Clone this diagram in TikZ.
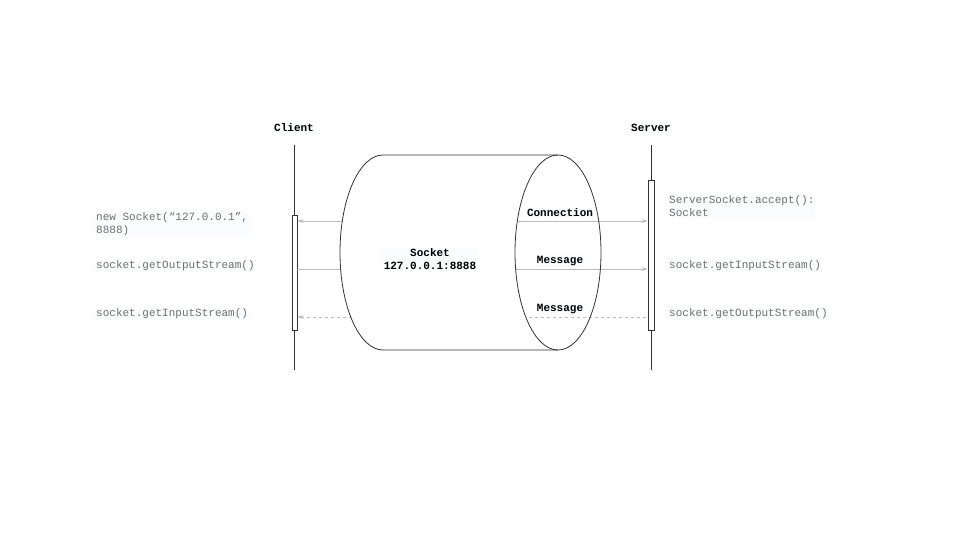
\documentclass[tikz,border=0pt]{standalone}
\usepackage{fontspec}
\setmonofont{Liberation Mono}
\usetikzlibrary{arrows.meta}
\definecolor{lifec}{HTML}{333333}
\definecolor{arrc}{HTML}{BBBBBB}
\definecolor{codec}{HTML}{707070}
\definecolor{lblbg}{HTML}{FAFBFD}
\tikzset{
  life/.style={draw=lifec, line width=0.8pt},
  actbox/.style={draw=lifec, fill=white, line width=0.8pt, minimum width=5pt, inner sep=0pt},
  hdr/.style={font=\ttfamily\bfseries\fontsize{11}{13}\selectfont, text=black, fill=lblbg, inner sep=1pt},
  code/.style={font=\ttfamily\fontsize{11}{13}\selectfont, text=codec, fill=lblbg, inner sep=1pt, align=left, anchor=west},
  msg/.style={font=\ttfamily\bfseries\fontsize{11}{13}\selectfont, text=black, fill=lblbg, inner sep=1pt},
  conn/.style={draw=arrc, line width=0.8pt, arrows={-Stealth[length=6pt,width=4pt]}},
  cyl/.style={draw=lifec, line width=0.8pt},
}
\begin{document}
\begin{tikzpicture}[x=1pt,y=-1pt]
\useasboundingbox[fill=white] (0,0) rectangle (960,540);
% headers and lifelines
\node[hdr] (client) at (294,128) {Client};
\node[hdr] (server) at (651,128) {Server};
\coordinate (ctop) at (294,145);
\coordinate (cbot) at (294,370);
\coordinate (stop) at (651,145);
\coordinate (sbot) at (651,370);
\draw[life] (ctop) -- (cbot);
\draw[life] (stop) -- (sbot);
\node[actbox, minimum height=115pt] (cbox) at (294.5,272.5) {};
\node[actbox, minimum width=6pt, minimum height=150pt] (sbox) at (651,255) {};
% connectors
\draw[conn, arrows={Stealth[length=6pt,width=4pt]-Stealth[length=6pt,width=4pt]}] (cbox.east |- 0,221) -- (sbox.west |- 0,221);
\draw[conn] (cbox.east |- 0,269) -- (sbox.west |- 0,269);
\draw[conn, dashed, arrows={Stealth[length=6pt,width=4pt]-}] (cbox.east |- 0,317) -- (sbox.west |- 0,317);
% cylinder body (white fill hides connectors)
\fill[white] (383,155) -- (558,155) arc[start angle=270, end angle=90, x radius=43, y radius=97.5]
  -- (383,350) arc[start angle=90, end angle=270, x radius=43, y radius=97.5] -- cycle;
\draw[cyl] (558,155) -- (383,155) arc[start angle=270, end angle=90, x radius=43, y radius=97.5] -- (558,350);
\draw[cyl] (558,252.5) ellipse[x radius=43, y radius=97.5];
\node[msg, align=center] (sock) at (430,259.5) {Socket\\127.0.0.1:8888};
\node[msg] (m1) at (560,213) {Connection};
\node[msg] (m2) at (560,261) {Message};
\node[msg] (m3) at (560,309) {Message};
% code labels
\node[code] (c1) at (95,224.5) {new Socket(“127.0.0.1”,\\8888)};
\node[code] (c2) at (95,266) {socket.getOutputStream()};
\node[code] (c3) at (95,314) {socket.getInputStream()};
\node[code] (s1) at (668,206.5) {ServerSocket.accept():\\Socket};
\node[code] (s2) at (668,266) {socket.getInputStream()};
\node[code] (s3) at (668,314) {socket.getOutputStream()};
\end{tikzpicture}
\end{document}
